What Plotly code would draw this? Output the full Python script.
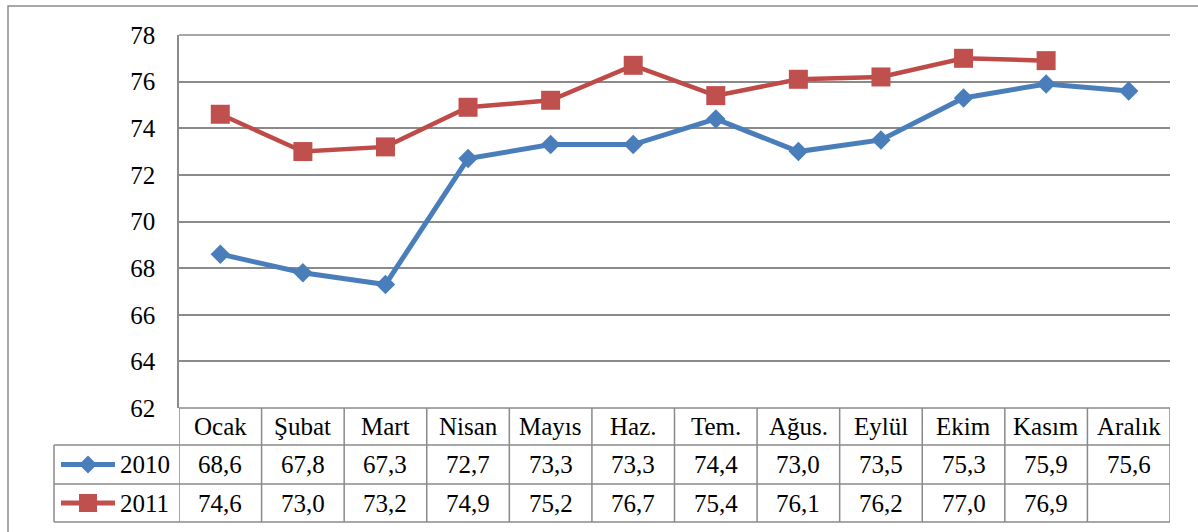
import plotly.graph_objects as go

months = ["Ocak", "Şubat", "Mart", "Nisan", "Mayıs", "Haz.", "Tem.", "Ağus.", "Eylül", "Ekim", "Kasım", "Aralık"]
series_names = ["2010", "2011"]
values_2010 = [68.6, 67.8, 67.3, 72.7, 73.3, 73.3, 74.4, 73.0, 73.5, 75.3, 75.9, 75.6]
values_2011 = [74.6, 73.0, 73.2, 74.9, 75.2, 76.7, 75.4, 76.1, 76.2, 77.0, 76.9, None]
y_ticks = [62, 64, 66, 68, 70, 72, 74, 76, 78]

W, H = 1198, 532
L, R, T, B = 179, 28, 35, 124
PW, PH = W - L - R, H - T - B

BLUE = "#4A7EBB"
RED = "#BE4B48"
RED_M = "#C0504D"
GRID = "#8A8A8A"
FONT = "Liberation Serif, Times New Roman, serif"
FS = 25


def px2x(px):
    return (px - L) / PW


def py2y(py):
    return (H - B - py) / PH


fig = go.Figure()
fig.add_trace(go.Scatter(
    x=list(range(len(months))), y=values_2010, mode="lines+markers", name=series_names[0],
    line=dict(color=BLUE, width=5), marker=dict(symbol="diamond", size=15, color=BLUE),
))
fig.add_trace(go.Scatter(
    x=list(range(len(months))), y=values_2011, mode="lines+markers", name=series_names[1],
    line=dict(color=RED, width=4.5), marker=dict(symbol="square", size=19, color=RED_M),
))

shapes = []
line_style = dict(color=GRID, width=1.5)
shapes.append(dict(type="rect", xref="paper", yref="paper", x0=px2x(8), x1=px2x(W + 20),
                   y0=py2y(H + 20), y1=py2y(6), line=dict(color=GRID, width=1.5)))
shapes.append(dict(type="line", xref="paper", yref="paper", x0=0, x1=1, y0=1, y1=1, line=line_style))

row_top, row_h1, row_h2, row_bot = 408, 445, 484, 522
tab_left = 54
for py, x0 in [(row_top, L), (row_h1, tab_left), (row_h2, tab_left), (row_bot, tab_left)]:
    shapes.append(dict(type="line", xref="paper", yref="paper", x0=px2x(x0), x1=1,
                       y0=py2y(py), y1=py2y(py), line=line_style))
shapes.append(dict(type="line", xref="paper", yref="paper", x0=px2x(tab_left), x1=px2x(tab_left),
                   y0=py2y(row_h1), y1=py2y(row_bot), line=line_style))
for k in range(len(months) + 1):
    shapes.append(dict(type="line", xref="x", yref="paper", x0=k - 0.5, x1=k - 0.5,
                       y0=py2y(row_top), y1=py2y(row_bot), line=line_style))

rows_c = [(row_h1 + row_h2) / 2, (row_h2 + row_bot) / 2]
for i, (col, sym) in enumerate([(BLUE, "diamond"), (RED_M, "square")]):
    cy = rows_c[i]
    shapes.append(dict(type="line", xref="paper", yref="paper", x0=px2x(61), x1=px2x(115),
                       y0=py2y(cy), y1=py2y(cy), line=dict(color=col, width=5)))
    cx = 88
    d = 9
    if sym == "diamond":
        path = (f"M {px2x(cx)},{py2y(cy - d)} L {px2x(cx + d)},{py2y(cy)} "
                f"L {px2x(cx)},{py2y(cy + d)} L {px2x(cx - d)},{py2y(cy)} Z")
        shapes.append(dict(type="path", xref="paper", yref="paper", path=path,
                           fillcolor=col, line=dict(width=0)))
    else:
        shapes.append(dict(type="rect", xref="paper", yref="paper", x0=px2x(cx - d), x1=px2x(cx + d),
                           y0=py2y(cy + d), y1=py2y(cy - d), fillcolor=col, line=dict(width=0)))

annotations = []
tfont = dict(family=FONT, size=FS, color="black")
hdr_c = (row_top + row_h1) / 2
for i, m in enumerate(months):
    annotations.append(dict(x=i, y=py2y(hdr_c), xref="x", yref="paper", text=m, showarrow=False,
                            font=tfont, xanchor="center", yanchor="middle"))
for r, vals in enumerate([values_2010, values_2011]):
    for i, v in enumerate(vals):
        if v is None:
            continue
        annotations.append(dict(x=i, y=py2y(rows_c[r]), xref="x", yref="paper",
                                text=f"{v:.1f}".replace(".", ","), showarrow=False,
                                font=tfont, xanchor="center", yanchor="middle"))
    annotations.append(dict(x=px2x(118), y=py2y(rows_c[r]), xref="paper", yref="paper",
                            text=series_names[r], showarrow=False, font=tfont,
                            xanchor="left", yanchor="middle"))

fig.update_layout(
    width=W, height=H,
    margin=dict(l=L, r=R, t=T, b=B, pad=0),
    paper_bgcolor="white", plot_bgcolor="white",
    showlegend=False,
    shapes=shapes, annotations=annotations,
    font=dict(family=FONT, size=FS, color="black"),
    xaxis=dict(range=[-0.5, len(months) - 0.5], showticklabels=False, showgrid=False,
               zeroline=False, showline=False, ticks=""),
    yaxis=dict(range=[62, 78], tickvals=y_ticks, ticktext=[str(t) for t in y_ticks],
               showgrid=True, gridcolor=GRID, gridwidth=1.5, zeroline=False,
               showline=True, linecolor=GRID, linewidth=1.5, ticks="",
               ticklabelstandoff=17, tickfont=dict(family=FONT, size=FS, color="black")),
)

fig.write_html("out.html", config={"displayModeBar": False},
               post_script="document.body.style.margin='0';document.body.style.overflow='hidden';")
